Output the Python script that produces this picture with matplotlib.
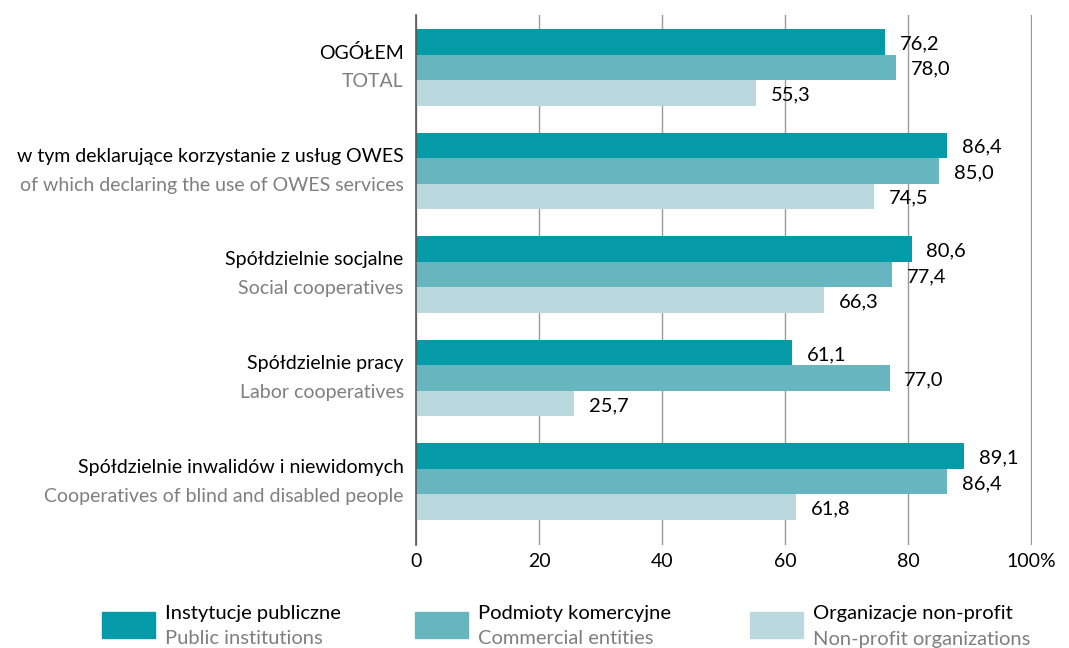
import matplotlib
matplotlib.use('Agg')
import matplotlib.pyplot as plt
from matplotlib.patches import Rectangle

# Dane
kategorie_pl = ['OGÓŁEM',
                'w tym deklarujące korzystanie z usług OWES',
                'Spółdzielnie socjalne',
                'Spółdzielnie pracy',
                'Spółdzielnie inwalidów i niewidomych']
kategorie_en = ['TOTAL',
                'of which declaring the use of OWES services',
                'Social cooperatives',
                'Labor cooperatives',
                'Cooperatives of blind and disabled people']
publiczne = [76.2, 86.4, 80.6, 61.1, 89.1]
komercyjne = [78.0, 85.0, 77.4, 77.0, 86.4]
non_profit = [55.3, 74.5, 66.3, 25.7, 61.8]
serie_pl = ['Instytucje publiczne', 'Podmioty komercyjne', 'Organizacje non-profit']
serie_en = ['Public institutions', 'Commercial entities', 'Non-profit organizations']
ticki = [0, 20, 40, 60, 80, 100]
etykiety_tickow = ['0', '20', '40', '60', '80', '100%']

kolory = ['#049aa8', '#67b5be', '#bad8de']
szary = '#7f7f7f'
font_kat = ['Lato', 'DejaVu Sans']

W, H = 1069, 648
fig = plt.figure(figsize=(W / 100, H / 100), dpi=100)
ax = fig.add_axes([416 / W, 1 - 545 / H, (1032 - 416) / W, 530 / H])

# uklad w jednostkach pikselowych osi
krok = 103.6
wys = 25.5
start0 = 14

for i in range(len(kategorie_pl)):
    start = start0 + i * krok
    for j, seria in enumerate([publiczne, komercyjne, non_profit]):
        yc = start + wys / 2 + j * wys
        ax.barh(yc, seria[i], height=wys, color=kolory[j], zorder=3)
        ax.text(seria[i] + 2.4, yc + 2, f'{seria[i]:.1f}'.replace('.', ','),
                va='center', ha='left', fontsize=14.5, family=font_kat, zorder=4)
    srodek = start + 1.5 * wys
    ax.text(-2.0, srodek - 14.5, kategorie_pl[i], ha='right', va='center',
            fontsize=14, family=font_kat, color='black')
    ax.text(-2.0, srodek + 14.5, kategorie_en[i], ha='right', va='center',
            fontsize=14, family=font_kat, color=szary)

ax.set_xlim(0, 100.16)
ax.set_ylim(530, 0)
ax.set_xticks(ticki)
ax.set_xticklabels(etykiety_tickow, family=font_kat, fontsize=14)
ax.set_yticks([])
ax.tick_params(axis='x', length=0, pad=6)
ax.grid(axis='x', color='#9a9a9a', linewidth=1, zorder=0)
for s in ['top', 'right', 'bottom']:
    ax.spines[s].set_visible(False)
ax.spines['left'].set_color('#555555')
ax.spines['left'].set_linewidth(1.2)
ax.spines['left'].set_zorder(5)

# Legenda
pozycje_x = [102, 415, 750]
for k in range(3):
    x0 = pozycje_x[k]
    fig.patches.append(Rectangle((x0 / W, 1 - 638 / H), 53 / W, 26 / H,
                                 transform=fig.transFigure, color=kolory[k]))
    fig.text((x0 + 63) / W, 1 - 613 / H, serie_pl[k], ha='left', va='center',
             fontsize=14.5, family=font_kat, color='black')
    fig.text((x0 + 63) / W, 1 - 639 / H, serie_en[k], ha='left', va='center',
             fontsize=14.5, family=font_kat, color=szary)

fig.savefig('out.png', dpi=100)
